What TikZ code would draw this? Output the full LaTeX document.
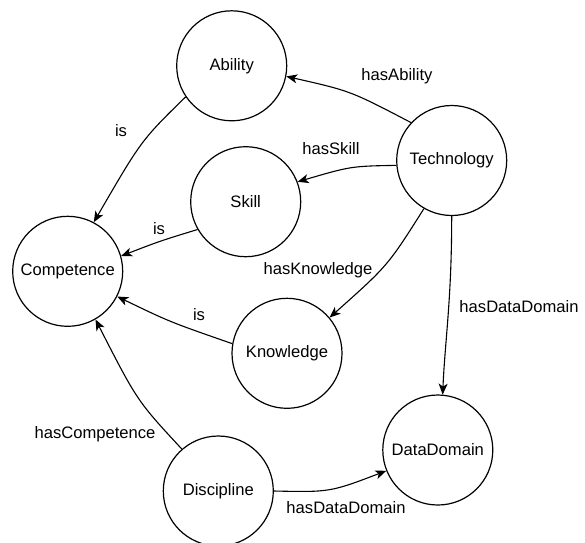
\documentclass[tikz,border=0pt]{standalone}
\usepackage{fontspec}
\setmainfont{Liberation Sans}
\usetikzlibrary{arrows.meta}
\begin{document}
\begin{tikzpicture}[x=1pt,y=-1pt,
  concept/.style={circle,draw,line width=1.2pt,minimum size=110pt,inner sep=0pt,font=\fontsize{16.6}{19}\selectfont},
  lbl/.style={inner sep=0pt,font=\fontsize{16.6}{19}\selectfont},
  rel/.style={line width=1.1pt,-{Stealth[length=11pt,width=9pt,inset=3pt]}}]
\useasboundingbox (0,0) rectangle (585,542);
\node[concept] (abi) at (231.7,65.8) {Ability};
\node[concept] (tech) at (451.7,160.5) {Technology};
\node[concept] (skill) at (245.7,201.7) {Skill};
\node[concept] (comp) at (67.7,271.3) {Competence};
\node[concept] (know) at (287,353.3) {Knowledge};
\node[concept] (dd) at (437.8,450) {DataDomain};
\node[concept] (disc) at (218.3,491) {Discipline};

\draw[rel] (tech.137) .. controls (350.4,90.9) .. (abi.-11);
\draw[rel] (tech.185) .. controls (350.9,166.2) .. (skill.21);
\draw[rel] (tech.240) .. controls (387.8,265.7) .. (know.40);
\draw[rel] (tech.270) .. controls (451.7,300) and (445,340) .. (dd.85);
\draw[rel] (abi.214) .. controls (141.3,140.3) .. (comp.62);
\draw[rel] (skill.210) .. controls (160,241) .. (comp.16);
\draw[rel] (know.170) .. controls (170,322) .. (comp.-27);
\draw[rel] (disc.131) .. controls (137.2,400.9) .. (comp.-60);
\draw[rel] (disc.0) .. controls (330.1,492.2) .. (dd.202);

\node[lbl] (l1) at (397,76) {hasAbility};
\node[lbl] (l2) at (121,131) {is};
\node[lbl] (l3) at (331,149) {hasSkill};
\node[lbl] (l4) at (159,229) {is};
\node[lbl] (l5) at (318,270) {hasKnowledge};
\node[lbl] (l6) at (519,307) {hasDataDomain};
\node[lbl] (l7) at (199,315) {is};
\node[lbl] (l8) at (95,434) {hasCompetence};
\node[lbl] (l9) at (346,508) {hasDataDomain};
\end{tikzpicture}
\end{document}
